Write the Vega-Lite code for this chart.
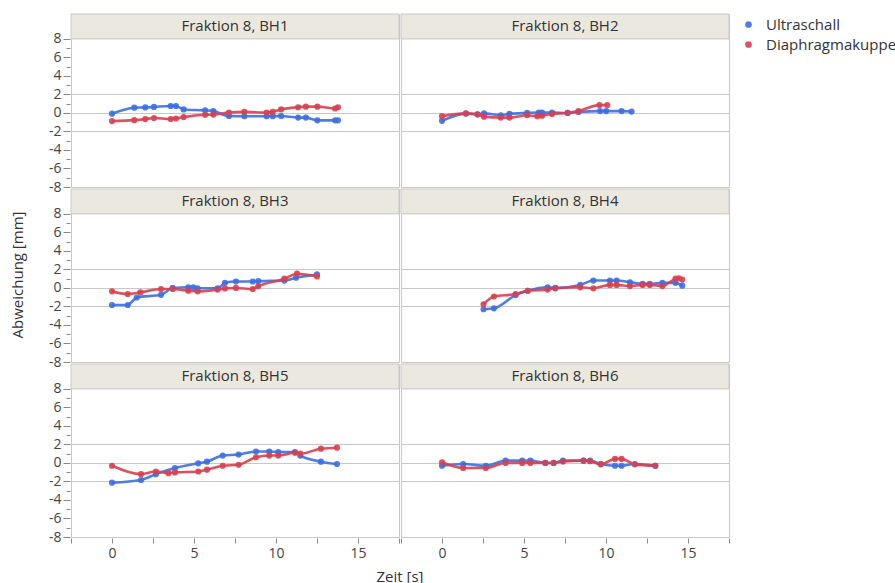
{
  "$schema": "https://vega.github.io/schema/vega-lite/v6.json",
  "padding": {"left": 10, "top": 13, "right": 5, "bottom": 5},
  "background": "white",
  "datasets": {
    "panels": [
      {"p": "BH1", "r": 1, "c": 1, "name": "Fraktion 8, BH1"},
      {"p": "BH2", "r": 1, "c": 2, "name": "Fraktion 8, BH2"},
      {"p": "BH3", "r": 2, "c": 1, "name": "Fraktion 8, BH3"},
      {"p": "BH4", "r": 2, "c": 2, "name": "Fraktion 8, BH4"},
      {"p": "BH5", "r": 3, "c": 1, "name": "Fraktion 8, BH5"},
      {"p": "BH6", "r": 3, "c": 2, "name": "Fraktion 8, BH6"}
    ],
    "pts": [
      {"p": "BH1", "h": 1}, {"p": "BH2", "h": 1}, {"p": "BH3", "h": 1},
      {"p": "BH4", "h": 1}, {"p": "BH5", "h": 1}, {"p": "BH6", "h": 1},
      {"p": "BH1", "s": "Ultraschall", "t": 0, "v": -0.08},
      {"p": "BH1", "s": "Ultraschall", "t": 1.36, "v": 0.57},
      {"p": "BH1", "s": "Ultraschall", "t": 2.03, "v": 0.6},
      {"p": "BH1", "s": "Ultraschall", "t": 2.56, "v": 0.65},
      {"p": "BH1", "s": "Ultraschall", "t": 3.58, "v": 0.75},
      {"p": "BH1", "s": "Ultraschall", "t": 3.9, "v": 0.75},
      {"p": "BH1", "s": "Ultraschall", "t": 4.37, "v": 0.38},
      {"p": "BH1", "s": "Ultraschall", "t": 5.68, "v": 0.28},
      {"p": "BH1", "s": "Ultraschall", "t": 6.18, "v": 0.2},
      {"p": "BH1", "s": "Ultraschall", "t": 7.13, "v": -0.33},
      {"p": "BH1", "s": "Ultraschall", "t": 8.07, "v": -0.35},
      {"p": "BH1", "s": "Ultraschall", "t": 9.43, "v": -0.35},
      {"p": "BH1", "s": "Ultraschall", "t": 9.8, "v": -0.35},
      {"p": "BH1", "s": "Ultraschall", "t": 10.31, "v": -0.33},
      {"p": "BH1", "s": "Ultraschall", "t": 11.35, "v": -0.5},
      {"p": "BH1", "s": "Ultraschall", "t": 11.82, "v": -0.5},
      {"p": "BH1", "s": "Ultraschall", "t": 12.52, "v": -0.8},
      {"p": "BH1", "s": "Ultraschall", "t": 13.6, "v": -0.8},
      {"p": "BH1", "s": "Ultraschall", "t": 13.78, "v": -0.8},
      {"p": "BH2", "s": "Ultraschall", "t": 0, "v": -0.85},
      {"p": "BH2", "s": "Ultraschall", "t": 1.46, "v": -0.07},
      {"p": "BH2", "s": "Ultraschall", "t": 2.16, "v": -0.15},
      {"p": "BH2", "s": "Ultraschall", "t": 2.56, "v": -0.05},
      {"p": "BH2", "s": "Ultraschall", "t": 3.58, "v": -0.25},
      {"p": "BH2", "s": "Ultraschall", "t": 4.11, "v": -0.1},
      {"p": "BH2", "s": "Ultraschall", "t": 5.19, "v": 0.0},
      {"p": "BH2", "s": "Ultraschall", "t": 5.9, "v": 0.05},
      {"p": "BH2", "s": "Ultraschall", "t": 6.1, "v": 0.05},
      {"p": "BH2", "s": "Ultraschall", "t": 6.71, "v": 0.05},
      {"p": "BH2", "s": "Ultraschall", "t": 7.66, "v": 0.0},
      {"p": "BH2", "s": "Ultraschall", "t": 8.32, "v": 0.1},
      {"p": "BH2", "s": "Ultraschall", "t": 9.64, "v": 0.2},
      {"p": "BH2", "s": "Ultraschall", "t": 10.01, "v": 0.2},
      {"p": "BH2", "s": "Ultraschall", "t": 10.95, "v": 0.2},
      {"p": "BH2", "s": "Ultraschall", "t": 11.56, "v": 0.15},
      {"p": "BH3", "s": "Ultraschall", "t": 0, "v": -1.84},
      {"p": "BH3", "s": "Ultraschall", "t": 0.96, "v": -1.84},
      {"p": "BH3", "s": "Ultraschall", "t": 1.51, "v": -1.03},
      {"p": "BH3", "s": "Ultraschall", "t": 2.99, "v": -0.74},
      {"p": "BH3", "s": "Ultraschall", "t": 3.7, "v": 0.0},
      {"p": "BH3", "s": "Ultraschall", "t": 4.65, "v": 0.07},
      {"p": "BH3", "s": "Ultraschall", "t": 4.96, "v": 0.07},
      {"p": "BH3", "s": "Ultraschall", "t": 5.22, "v": -0.04},
      {"p": "BH3", "s": "Ultraschall", "t": 6.44, "v": -0.04},
      {"p": "BH3", "s": "Ultraschall", "t": 6.89, "v": 0.55},
      {"p": "BH3", "s": "Ultraschall", "t": 7.56, "v": 0.7},
      {"p": "BH3", "s": "Ultraschall", "t": 8.58, "v": 0.7},
      {"p": "BH3", "s": "Ultraschall", "t": 8.92, "v": 0.73},
      {"p": "BH3", "s": "Ultraschall", "t": 10.51, "v": 0.8},
      {"p": "BH3", "s": "Ultraschall", "t": 11.22, "v": 1.1},
      {"p": "BH3", "s": "Ultraschall", "t": 12.5, "v": 1.46},
      {"p": "BH4", "s": "Ultraschall", "t": 2.53, "v": -2.3},
      {"p": "BH4", "s": "Ultraschall", "t": 3.17, "v": -2.2},
      {"p": "BH4", "s": "Ultraschall", "t": 4.49, "v": -0.77},
      {"p": "BH4", "s": "Ultraschall", "t": 5.23, "v": -0.3},
      {"p": "BH4", "s": "Ultraschall", "t": 6.44, "v": 0.07},
      {"p": "BH4", "s": "Ultraschall", "t": 6.91, "v": 0.0},
      {"p": "BH4", "s": "Ultraschall", "t": 8.43, "v": 0.33},
      {"p": "BH4", "s": "Ultraschall", "t": 9.23, "v": 0.8},
      {"p": "BH4", "s": "Ultraschall", "t": 10.24, "v": 0.8},
      {"p": "BH4", "s": "Ultraschall", "t": 10.65, "v": 0.8},
      {"p": "BH4", "s": "Ultraschall", "t": 11.46, "v": 0.62},
      {"p": "BH4", "s": "Ultraschall", "t": 12.23, "v": 0.44},
      {"p": "BH4", "s": "Ultraschall", "t": 12.67, "v": 0.44},
      {"p": "BH4", "s": "Ultraschall", "t": 13.44, "v": 0.55},
      {"p": "BH4", "s": "Ultraschall", "t": 14.24, "v": 0.55},
      {"p": "BH4", "s": "Ultraschall", "t": 14.65, "v": 0.25},
      {"p": "BH5", "s": "Ultraschall", "t": 0, "v": -2.13},
      {"p": "BH5", "s": "Ultraschall", "t": 1.77, "v": -1.84},
      {"p": "BH5", "s": "Ultraschall", "t": 2.68, "v": -1.21},
      {"p": "BH5", "s": "Ultraschall", "t": 3.84, "v": -0.55},
      {"p": "BH5", "s": "Ultraschall", "t": 5.26, "v": -0.04},
      {"p": "BH5", "s": "Ultraschall", "t": 5.79, "v": 0.14},
      {"p": "BH5", "s": "Ultraschall", "t": 6.75, "v": 0.8},
      {"p": "BH5", "s": "Ultraschall", "t": 7.72, "v": 0.91},
      {"p": "BH5", "s": "Ultraschall", "t": 8.78, "v": 1.24},
      {"p": "BH5", "s": "Ultraschall", "t": 9.59, "v": 1.24},
      {"p": "BH5", "s": "Ultraschall", "t": 10.14, "v": 1.17},
      {"p": "BH5", "s": "Ultraschall", "t": 11.16, "v": 1.17},
      {"p": "BH5", "s": "Ultraschall", "t": 11.48, "v": 0.8},
      {"p": "BH5", "s": "Ultraschall", "t": 12.74, "v": 0.14},
      {"p": "BH5", "s": "Ultraschall", "t": 13.72, "v": -0.11},
      {"p": "BH6", "s": "Ultraschall", "t": 0, "v": -0.3},
      {"p": "BH6", "s": "Ultraschall", "t": 1.29, "v": -0.11},
      {"p": "BH6", "s": "Ultraschall", "t": 2.67, "v": -0.3},
      {"p": "BH6", "s": "Ultraschall", "t": 3.88, "v": 0.25},
      {"p": "BH6", "s": "Ultraschall", "t": 4.89, "v": 0.25},
      {"p": "BH6", "s": "Ultraschall", "t": 5.39, "v": 0.25},
      {"p": "BH6", "s": "Ultraschall", "t": 6.3, "v": 0.0},
      {"p": "BH6", "s": "Ultraschall", "t": 6.81, "v": 0.0},
      {"p": "BH6", "s": "Ultraschall", "t": 7.38, "v": 0.25},
      {"p": "BH6", "s": "Ultraschall", "t": 8.63, "v": 0.25},
      {"p": "BH6", "s": "Ultraschall", "t": 9.03, "v": 0.25},
      {"p": "BH6", "s": "Ultraschall", "t": 9.68, "v": -0.11},
      {"p": "BH6", "s": "Ultraschall", "t": 10.55, "v": -0.3},
      {"p": "BH6", "s": "Ultraschall", "t": 10.95, "v": -0.3},
      {"p": "BH6", "s": "Ultraschall", "t": 11.76, "v": -0.11},
      {"p": "BH6", "s": "Ultraschall", "t": 13.01, "v": -0.3},
      {"p": "BH1", "s": "Diaphragmakuppe", "t": 0, "v": -0.88},
      {"p": "BH1", "s": "Diaphragmakuppe", "t": 1.36, "v": -0.78},
      {"p": "BH1", "s": "Diaphragmakuppe", "t": 2.03, "v": -0.66},
      {"p": "BH1", "s": "Diaphragmakuppe", "t": 2.56, "v": -0.55},
      {"p": "BH1", "s": "Diaphragmakuppe", "t": 3.58, "v": -0.66},
      {"p": "BH1", "s": "Diaphragmakuppe", "t": 3.9, "v": -0.6},
      {"p": "BH1", "s": "Diaphragmakuppe", "t": 4.37, "v": -0.45},
      {"p": "BH1", "s": "Diaphragmakuppe", "t": 5.68, "v": -0.2},
      {"p": "BH1", "s": "Diaphragmakuppe", "t": 6.18, "v": -0.18},
      {"p": "BH1", "s": "Diaphragmakuppe", "t": 7.13, "v": 0.05},
      {"p": "BH1", "s": "Diaphragmakuppe", "t": 8.07, "v": 0.12},
      {"p": "BH1", "s": "Diaphragmakuppe", "t": 9.43, "v": 0.03},
      {"p": "BH1", "s": "Diaphragmakuppe", "t": 9.8, "v": 0.12},
      {"p": "BH1", "s": "Diaphragmakuppe", "t": 10.31, "v": 0.38},
      {"p": "BH1", "s": "Diaphragmakuppe", "t": 11.35, "v": 0.62},
      {"p": "BH1", "s": "Diaphragmakuppe", "t": 11.82, "v": 0.68},
      {"p": "BH1", "s": "Diaphragmakuppe", "t": 12.52, "v": 0.68},
      {"p": "BH1", "s": "Diaphragmakuppe", "t": 13.6, "v": 0.48},
      {"p": "BH1", "s": "Diaphragmakuppe", "t": 13.78, "v": 0.62},
      {"p": "BH2", "s": "Diaphragmakuppe", "t": 0, "v": -0.35},
      {"p": "BH2", "s": "Diaphragmakuppe", "t": 1.46, "v": -0.05},
      {"p": "BH2", "s": "Diaphragmakuppe", "t": 2.16, "v": -0.15},
      {"p": "BH2", "s": "Diaphragmakuppe", "t": 2.56, "v": -0.4},
      {"p": "BH2", "s": "Diaphragmakuppe", "t": 3.58, "v": -0.5},
      {"p": "BH2", "s": "Diaphragmakuppe", "t": 4.11, "v": -0.5},
      {"p": "BH2", "s": "Diaphragmakuppe", "t": 5.19, "v": -0.25},
      {"p": "BH2", "s": "Diaphragmakuppe", "t": 5.81, "v": -0.35},
      {"p": "BH2", "s": "Diaphragmakuppe", "t": 6.1, "v": -0.3},
      {"p": "BH2", "s": "Diaphragmakuppe", "t": 6.71, "v": -0.1},
      {"p": "BH2", "s": "Diaphragmakuppe", "t": 7.66, "v": 0.0},
      {"p": "BH2", "s": "Diaphragmakuppe", "t": 8.32, "v": 0.2},
      {"p": "BH2", "s": "Diaphragmakuppe", "t": 9.6, "v": 0.85},
      {"p": "BH2", "s": "Diaphragmakuppe", "t": 10.08, "v": 0.85},
      {"p": "BH3", "s": "Diaphragmakuppe", "t": 0, "v": -0.37},
      {"p": "BH3", "s": "Diaphragmakuppe", "t": 0.96, "v": -0.66},
      {"p": "BH3", "s": "Diaphragmakuppe", "t": 1.73, "v": -0.48},
      {"p": "BH3", "s": "Diaphragmakuppe", "t": 2.99, "v": -0.11},
      {"p": "BH3", "s": "Diaphragmakuppe", "t": 3.7, "v": -0.11},
      {"p": "BH3", "s": "Diaphragmakuppe", "t": 4.65, "v": -0.3},
      {"p": "BH3", "s": "Diaphragmakuppe", "t": 5.22, "v": -0.37},
      {"p": "BH3", "s": "Diaphragmakuppe", "t": 6.44, "v": -0.18},
      {"p": "BH3", "s": "Diaphragmakuppe", "t": 6.89, "v": -0.05},
      {"p": "BH3", "s": "Diaphragmakuppe", "t": 7.56, "v": 0.0},
      {"p": "BH3", "s": "Diaphragmakuppe", "t": 8.58, "v": -0.11},
      {"p": "BH3", "s": "Diaphragmakuppe", "t": 8.92, "v": 0.18},
      {"p": "BH3", "s": "Diaphragmakuppe", "t": 10.51, "v": 1.0},
      {"p": "BH3", "s": "Diaphragmakuppe", "t": 11.28, "v": 1.54},
      {"p": "BH3", "s": "Diaphragmakuppe", "t": 12.5, "v": 1.24},
      {"p": "BH4", "s": "Diaphragmakuppe", "t": 2.53, "v": -1.76},
      {"p": "BH4", "s": "Diaphragmakuppe", "t": 3.17, "v": -0.92},
      {"p": "BH4", "s": "Diaphragmakuppe", "t": 4.49, "v": -0.66},
      {"p": "BH4", "s": "Diaphragmakuppe", "t": 5.23, "v": -0.3},
      {"p": "BH4", "s": "Diaphragmakuppe", "t": 6.44, "v": -0.18},
      {"p": "BH4", "s": "Diaphragmakuppe", "t": 6.91, "v": -0.04},
      {"p": "BH4", "s": "Diaphragmakuppe", "t": 8.43, "v": 0.07},
      {"p": "BH4", "s": "Diaphragmakuppe", "t": 9.23, "v": -0.04},
      {"p": "BH4", "s": "Diaphragmakuppe", "t": 10.24, "v": 0.33},
      {"p": "BH4", "s": "Diaphragmakuppe", "t": 10.65, "v": 0.33},
      {"p": "BH4", "s": "Diaphragmakuppe", "t": 11.46, "v": 0.2},
      {"p": "BH4", "s": "Diaphragmakuppe", "t": 12.23, "v": 0.33},
      {"p": "BH4", "s": "Diaphragmakuppe", "t": 12.67, "v": 0.33},
      {"p": "BH4", "s": "Diaphragmakuppe", "t": 13.44, "v": 0.2},
      {"p": "BH4", "s": "Diaphragmakuppe", "t": 14.24, "v": 1.0},
      {"p": "BH4", "s": "Diaphragmakuppe", "t": 14.45, "v": 1.05},
      {"p": "BH4", "s": "Diaphragmakuppe", "t": 14.65, "v": 0.9},
      {"p": "BH5", "s": "Diaphragmakuppe", "t": 0, "v": -0.3},
      {"p": "BH5", "s": "Diaphragmakuppe", "t": 1.77, "v": -1.21},
      {"p": "BH5", "s": "Diaphragmakuppe", "t": 2.68, "v": -0.92},
      {"p": "BH5", "s": "Diaphragmakuppe", "t": 3.44, "v": -1.1},
      {"p": "BH5", "s": "Diaphragmakuppe", "t": 3.84, "v": -1.02},
      {"p": "BH5", "s": "Diaphragmakuppe", "t": 5.26, "v": -0.92},
      {"p": "BH5", "s": "Diaphragmakuppe", "t": 5.79, "v": -0.73},
      {"p": "BH5", "s": "Diaphragmakuppe", "t": 6.75, "v": -0.3},
      {"p": "BH5", "s": "Diaphragmakuppe", "t": 7.72, "v": -0.19},
      {"p": "BH5", "s": "Diaphragmakuppe", "t": 8.78, "v": 0.62},
      {"p": "BH5", "s": "Diaphragmakuppe", "t": 9.59, "v": 0.8},
      {"p": "BH5", "s": "Diaphragmakuppe", "t": 10.14, "v": 0.8},
      {"p": "BH5", "s": "Diaphragmakuppe", "t": 11.16, "v": 1.1},
      {"p": "BH5", "s": "Diaphragmakuppe", "t": 11.48, "v": 1.0},
      {"p": "BH5", "s": "Diaphragmakuppe", "t": 12.74, "v": 1.54},
      {"p": "BH5", "s": "Diaphragmakuppe", "t": 13.72, "v": 1.65},
      {"p": "BH6", "s": "Diaphragmakuppe", "t": 0, "v": 0.07},
      {"p": "BH6", "s": "Diaphragmakuppe", "t": 1.29, "v": -0.55},
      {"p": "BH6", "s": "Diaphragmakuppe", "t": 2.67, "v": -0.55},
      {"p": "BH6", "s": "Diaphragmakuppe", "t": 3.88, "v": 0.0},
      {"p": "BH6", "s": "Diaphragmakuppe", "t": 4.89, "v": 0.0},
      {"p": "BH6", "s": "Diaphragmakuppe", "t": 5.39, "v": 0.0},
      {"p": "BH6", "s": "Diaphragmakuppe", "t": 6.3, "v": 0.0},
      {"p": "BH6", "s": "Diaphragmakuppe", "t": 6.81, "v": 0.0},
      {"p": "BH6", "s": "Diaphragmakuppe", "t": 7.38, "v": 0.15},
      {"p": "BH6", "s": "Diaphragmakuppe", "t": 8.63, "v": 0.25},
      {"p": "BH6", "s": "Diaphragmakuppe", "t": 9.03, "v": 0.18},
      {"p": "BH6", "s": "Diaphragmakuppe", "t": 9.68, "v": -0.15},
      {"p": "BH6", "s": "Diaphragmakuppe", "t": 10.55, "v": 0.44},
      {"p": "BH6", "s": "Diaphragmakuppe", "t": 10.95, "v": 0.44},
      {"p": "BH6", "s": "Diaphragmakuppe", "t": 11.76, "v": -0.15},
      {"p": "BH6", "s": "Diaphragmakuppe", "t": 13.01, "v": -0.3}
    ]
  },
  "data": {"name": "pts"},
  "transform": [
    {"lookup": "p", "from": {"data": {"name": "panels"}, "key": "p", "fields": ["r", "c", "name"]}}
  ],
  "facet": {
    "row": {"field": "r", "type": "ordinal", "header": {"title": "Abweichung [mm]", "labels": false, "titleOrient": "left", "titleFont": "Open Sans", "titleFontSize": 15, "titleFontWeight": "normal", "titleColor": "#333333", "titlePadding": 12}},
    "column": {"field": "c", "type": "ordinal", "header": {"title": "Zeit [s]", "labels": false, "titleOrient": "bottom", "titleFont": "Open Sans", "titleFontSize": 15, "titleFontWeight": "normal", "titleColor": "#333333", "titlePadding": 0}}
  },
  "spacing": {"row": 0, "column": 0},
  "resolve": {"scale": {"x": "shared", "y": "shared"}},
  "spec": {
    "width": 328,
    "height": 173,
    "layer": [
      {
        "transform": [{"filter": "datum.h == 1"}],
        "mark": {"type": "rect", "fill": "#ebe8e0", "stroke": "#c8c8c8", "strokeWidth": 1},
        "encoding": {
          "x": {"datum": -2.5, "type": "quantitative", "scale": {"domain": [-2.5, 17.5], "nice": false, "zero": false},
            "axis": {"title": null, "values": [-2.5, 0, 2.5, 5, 7.5, 10, 12.5, 15, 17.5], "labelExpr": "datum.value % 5 === 0 ? '' + datum.value : ''", "labelOverlap": false, "grid": false, "domain": false, "tickColor": "#888888", "tickSize": 5, "labelFont": "Open Sans", "labelFontSize": 14, "labelColor": "#444444", "labelPadding": 3}},
          "x2": {"datum": 17.5},
          "y": {"datum": 8.0, "type": "quantitative", "scale": {"domain": [-8, 10.69], "nice": false, "zero": false},
            "axis": {"title": null, "tickCount": 18, "labelExpr": "(datum.value % 2 === 0 && datum.value <= 8) ? '' + datum.value : ''", "labelOverlap": false, "labelSeparation": 0, "domain": false, "tickColor": "#888888",
              "tickOpacity": {"condition": {"test": "datum.value > 8", "value": 0}, "value": 1},
              "tickSize": {"condition": {"test": "datum.value % 2 === 0", "value": 7}, "value": 4},
              "labelFont": "Open Sans", "labelFontSize": 14, "labelColor": "#444444", "labelPadding": 2, "labelBaseline": "middle", "grid": true, "gridColor": "#c8c8c8", "gridWidth": 1.2,
              "gridOpacity": {"condition": {"test": "abs(datum.value) <= 2 && datum.value % 2 === 0", "value": 1}, "value": 0}}},
          "y2": {"datum": 10.69}
        }
      },
      {
        "transform": [{"filter": "datum.h == 1"}],
        "mark": {"type": "text", "font": "Open Sans", "fontSize": 15, "color": "#333333", "align": "center", "baseline": "middle"},
        "encoding": {
          "x": {"datum": 7.5, "type": "quantitative"},
          "y": {"datum": 9.35, "type": "quantitative"},
          "text": {"field": "name"}
        }
      },
      {
        "transform": [{"filter": "isValid(datum.s)"}],
        "mark": {"type": "line", "interpolate": "monotone", "strokeWidth": 2.6, "opacity": 0.9},
        "encoding": {
          "x": {"field": "t", "type": "quantitative"},
          "y": {"field": "v", "type": "quantitative"},
          "color": {"field": "s", "type": "nominal", "scale": {"domain": ["Ultraschall", "Diaphragmakuppe"], "range": ["#3c6fe2", "#d8404f"]},
            "legend": {"title": null, "orient": "right", "offset": 8, "padding": 3, "symbolType": "circle", "symbolSize": 45, "symbolStrokeWidth": 0, "labelFont": "Open Sans", "labelFontSize": 15, "labelColor": "#333333", "labelOffset": 10, "rowPadding": 4,
              "encode": {"symbols": {"update": {"fill": {"scale": "color", "field": "value"}, "opacity": {"value": 1}}}}}},
          "order": {"field": "t", "type": "quantitative"}
        }
      },
      {
        "transform": [{"filter": "isValid(datum.s)"}],
        "mark": {"type": "point", "filled": true, "size": 38, "opacity": 0.9},
        "encoding": {
          "x": {"field": "t", "type": "quantitative"},
          "y": {"field": "v", "type": "quantitative"},
          "color": {"field": "s", "type": "nominal",
            "legend": {"title": null, "orient": "right", "offset": 8, "padding": 3, "symbolType": "circle", "symbolSize": 45, "symbolStrokeWidth": 0, "labelFont": "Open Sans", "labelFontSize": 15, "labelColor": "#333333", "labelOffset": 10, "rowPadding": 4,
              "encode": {"symbols": {"update": {"fill": {"scale": "color", "field": "value"}, "opacity": {"value": 1}}}}}}
        }
      }
    ]
  },
  "config": {
    "view": {"stroke": "#c8c8c8", "strokeWidth": 1},
    "font": "Open Sans",
    "axis": {"labelOverlap": false}
  }
}
